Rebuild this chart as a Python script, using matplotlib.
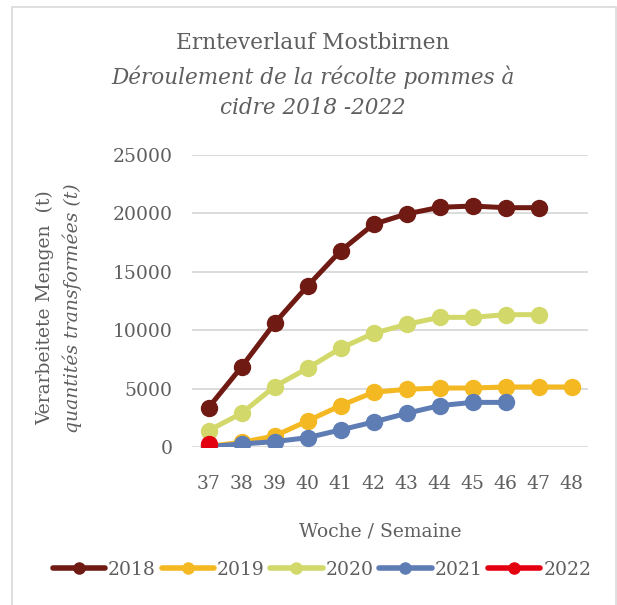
import matplotlib
matplotlib.use('Agg')
import matplotlib.pyplot as plt
from matplotlib.lines import Line2D
from matplotlib.patches import Rectangle

plt.rcParams['font.family'] = ['DejaVu Serif']

weeks = [37, 38, 39, 40, 41, 42, 43, 44, 45, 46, 47, 48]
years = ['2018', '2019', '2020', '2021', '2022']
v2018 = [3370, 6850, 10590, 13780, 16780, 19070, 19950, 20520, 20630, 20490, 20490]
v2019 = [50, 400, 940, 2230, 3540, 4680, 4940, 5050, 5050, 5140, 5140, 5140]
v2020 = [1400, 2880, 5170, 6740, 8450, 9730, 10500, 11100, 11100, 11330, 11330]
v2021 = [30, 260, 460, 800, 1460, 2140, 2880, 3540, 3820, 3820]
v2022 = [230]
series = [v2018, v2019, v2020, v2021, v2022]
colors = ['#701a14', '#f4b922', '#d2d96a', '#5f7db5', '#e3000f']
grey = '#5f5f5f'

fig = plt.figure(figsize=(6.17, 6.05), dpi=100)
fig.patches.append(Rectangle((12 / 617, -0.1), 604 / 617, 1.1 - 7 / 605,
                             transform=fig.transFigure, fill=False,
                             edgecolor='#d9d9d9', linewidth=1.2))
ax = fig.add_axes([192 / 617, 1 - 447 / 605, 396 / 617, 292 / 605])

for vals, c in zip(series, colors):
    ax.plot(weeks[:len(vals)], vals, color=c, linewidth=3.6, marker='o',
            markersize=11.5, solid_capstyle='round')

ax.set_xlim(36.5, 48.5)
ax.set_ylim(0, 25000)
ax.set_xticks(weeks)
ax.set_yticks(range(0, 25001, 5000))
ax.grid(axis='y', color='#d9d9d9', linewidth=1.3)
ax.set_axisbelow(True)
for s in ax.spines.values():
    s.set_visible(False)
ax.tick_params(length=0, labelsize=13.5, labelcolor=grey)
ax.tick_params(axis='y', pad=14)
ax.tick_params(axis='x', pad=20)

fig.text(313 / 617, 1 - 43 / 605, 'Ernteverlauf Mostbirnen', ha='center',
         va='center', fontsize=15.7, color=grey)
fig.text(313 / 617, 1 - 77 / 605, 'Déroulement de la récolte pommes à',
         ha='center', va='center', fontsize=15.5, color=grey, style='italic')
fig.text(313 / 617, 1 - 108 / 605, 'cidre 2018 -2022', ha='center',
         va='center', fontsize=15.5, color=grey, style='italic')

fig.text(45 / 617, 1 - 308 / 605, 'Verarbeitete Mengen  (t)', rotation=90,
         ha='center', va='center', fontsize=13.5, color=grey)
fig.text(72 / 617, 1 - 308 / 605, 'quantités transformées (t)', rotation=90,
         ha='center', va='center', fontsize=13.5, color=grey, style='italic')
fig.text(380 / 617, 1 - 532 / 605, 'Woche / Semaine', ha='center',
         va='center', fontsize=13.5, color=grey)

handles = [Line2D([], [], color=c, linewidth=4, marker='o', markersize=8,
                  solid_capstyle='round') for c in colors]
fig.legend(handles, years, loc='center', bbox_to_anchor=(322 / 617, 1 - 570 / 605),
           ncol=5, frameon=False, fontsize=13.5, labelcolor=grey,
           handlelength=2.8, handletextpad=0.15, columnspacing=0.3)

fig.savefig('out.png', dpi=100)
